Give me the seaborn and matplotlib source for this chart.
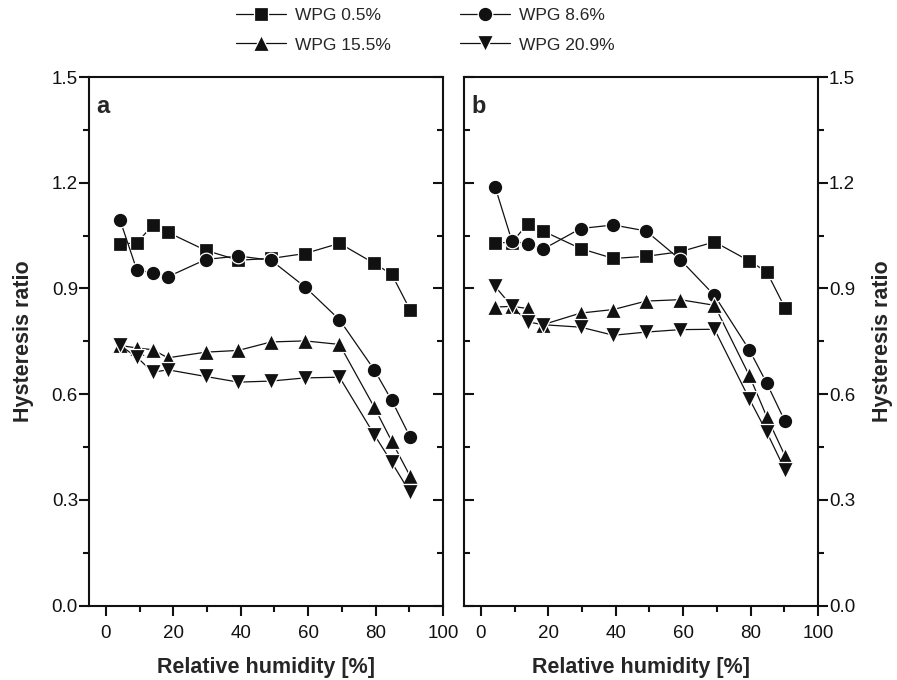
import matplotlib
matplotlib.use('Agg')
import matplotlib.pyplot as plt
from matplotlib.ticker import MultipleLocator
import seaborn as sns

# relative humidity steps (same for both panels)
rh = [4.2, 9.2, 13.9, 18.4, 29.6, 39.3, 49.0, 59.1, 69.3, 79.6, 84.8, 90.2]

labels = ['WPG 0.5%', 'WPG 8.6%', 'WPG 15.5%', 'WPG 20.9%']
markers = ['s', 'o', '^', 'v']

# panel a
sq_a = [1.026, 1.029, 1.080, 1.059, 1.008, 0.980, 0.985, 0.999, 1.028, 0.971, 0.940, 0.840]
ci_a = [1.094, 0.952, 0.944, 0.933, 0.982, 0.992, 0.980, 0.904, 0.811, 0.669, 0.582, 0.479]
tu_a = [0.738, 0.731, 0.726, 0.703, 0.719, 0.724, 0.748, 0.751, 0.741, 0.563, 0.466, 0.368]
td_a = [0.738, 0.705, 0.662, 0.669, 0.650, 0.634, 0.637, 0.646, 0.648, 0.485, 0.406, 0.321]

# panel b
sq_b = [1.030, 1.030, 1.084, 1.063, 1.013, 0.985, 0.991, 1.004, 1.032, 0.978, 0.947, 0.845]
ci_b = [1.189, 1.035, 1.026, 1.011, 1.070, 1.080, 1.063, 0.982, 0.880, 0.726, 0.631, 0.523]
tu_b = [0.847, 0.849, 0.843, 0.797, 0.830, 0.840, 0.864, 0.868, 0.852, 0.653, 0.536, 0.425]
td_b = [0.906, 0.849, 0.805, 0.797, 0.790, 0.767, 0.776, 0.783, 0.784, 0.587, 0.492, 0.385]

sns.set_style('ticks')
plt.rcParams['font.family'] = ['Liberation Sans', 'DejaVu Sans']

W, H = 897, 680
fig = plt.figure(figsize=(W / 100, H / 100), dpi=100)

bottom = 1 - 605.5 / H
height = (605.5 - 77) / H
ax_a = fig.add_axes([89 / W, bottom, 354 / W, height])
ax_b = fig.add_axes([464 / W, bottom, 354 / W, height])

sizes = {'s': 10, 'o': 10.5, '^': 11.5, 'v': 11.5}

for ax, series in [(ax_a, [sq_a, ci_a, tu_a, td_a]), (ax_b, [sq_b, ci_b, tu_b, td_b])]:
    for vals, m, lab in zip(series, markers, labels):
        sns.lineplot(x=rh, y=vals, ax=ax, color='#111111', marker=m, markersize=sizes[m],
                     markeredgecolor='white', markeredgewidth=0.9, linewidth=0.9, label=lab,
                     legend=False)
    ax.set_xlim(-5, 100)
    ax.set_ylim(0, 1.5)
    ax.xaxis.set_major_locator(MultipleLocator(20))
    ax.xaxis.set_minor_locator(MultipleLocator(10))
    ax.yaxis.set_major_locator(MultipleLocator(0.3))
    ax.yaxis.set_minor_locator(MultipleLocator(0.15))
    ax.yaxis.set_major_formatter(plt.FormatStrFormatter('%.1f'))
    for sp in ax.spines.values():
        sp.set_visible(True)
        sp.set_linewidth(1.5)
        sp.set_color('#111111')
    ax.tick_params(which='both', axis='both', colors='#111111', width=1.5, labelsize=13.5)
    ax.tick_params(which='major', length=7)
    ax.tick_params(which='minor', length=4)
    ax.tick_params(axis='x', which='both', direction='out', top=False, pad=7)
    ax.set_xlabel('Relative humidity [%]', fontsize=15.5, fontweight='bold', labelpad=11)

# panel a: labels left with outward ticks, plain inward ticks on the right
ax_a.tick_params(axis='y', which='both', left=True, right=True, labelleft=True, labelright=False,
                 direction='in', pad=8)
for t in ax_a.yaxis.get_major_ticks() + ax_a.yaxis.get_minor_ticks():
    t.tick1line.set_marker(matplotlib.lines.TICKLEFT)
ax_a.set_ylabel('Hysteresis ratio', fontsize=15.5, fontweight='bold', labelpad=13)

# panel b: mirror of panel a
ax_b.tick_params(axis='y', which='both', left=True, right=True, labelleft=False, labelright=True,
                 direction='in', pad=8)
for t in ax_b.yaxis.get_major_ticks() + ax_b.yaxis.get_minor_ticks():
    t.tick2line.set_marker(matplotlib.lines.TICKRIGHT)
ax_b.yaxis.set_label_position('right')
ax_b.set_ylabel('Hysteresis ratio', fontsize=15.5, fontweight='bold', labelpad=12, rotation=90)

ax_a.text(0.02, 0.965, 'a', transform=ax_a.transAxes, ha='left', va='top', fontsize=17, fontweight='bold')
ax_b.text(0.02, 0.965, 'b', transform=ax_b.transAxes, ha='left', va='top', fontsize=17, fontweight='bold')

# legend rows: 0.5% / 8.6% on top, 15.5% / 20.9% below (matplotlib fills by column)
handles, labs = ax_a.get_legend_handles_labels()
order = [0, 2, 1, 3]
fig.legend([handles[i] for i in order], [labs[i] for i in order], loc='center',
           bbox_to_anchor=(425 / W, 1 - 30 / H), ncol=2, frameon=False, fontsize=12.5,
           handlelength=2.9, handletextpad=0.5, columnspacing=4.0, labelspacing=0.85, borderpad=0)

fig.savefig('out.png', dpi=100)
